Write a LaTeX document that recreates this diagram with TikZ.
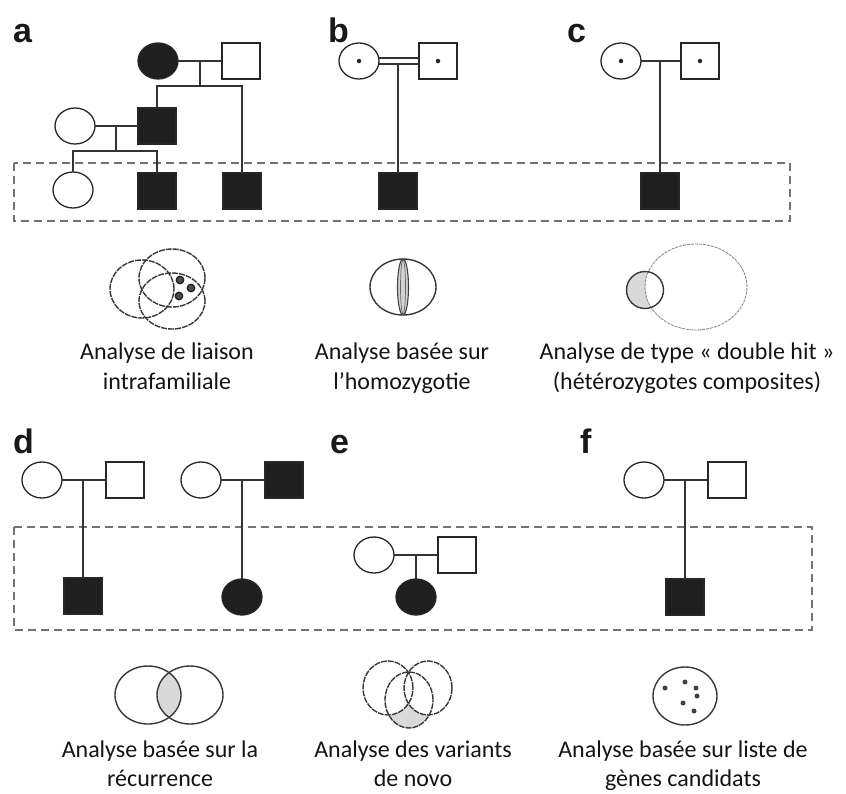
\documentclass[tikz,border=0pt]{standalone}
\usepackage{fontspec}
\setmainfont{Carlito}
\newfontfamily\labelfont{Liberation Sans}
\usetikzlibrary{shapes.geometric}
\begin{document}
\begin{tikzpicture}[x=1pt,y=-1pt,
  every node/.style={inner sep=0pt, outer sep=0pt},
  fem/.style={ellipse, draw=black!85, line width=1.3pt, minimum width=40pt, minimum height=36pt},
  mal/.style={rectangle, draw=black!85, line width=1.3pt, minimum width=38pt, minimum height=36pt},
  aff/.style={fill=black!88},
  pedlink/.style={draw=black!80, line width=1.3pt},
  panellbl/.style={font=\labelfont\bfseries\fontsize{34}{34}\selectfont, anchor=base west, text=black!90},
  captxt/.style={font=\fontsize{24}{30}\selectfont, anchor=base, text=black!92},
  dashbox/.style={draw=black!55, dash pattern=on 8pt off 5pt, line width=1.4pt},
  dotc/.style={circle, fill=black!85, minimum size=4.5pt},
  vline/.style={draw=black!78, line width=1.4pt},
  vdash/.style={draw=black!78, line width=1.4pt, dash pattern=on 6pt off 1pt},
  vdot/.style={circle, fill=black!70, draw=black!90, line width=1.2pt, minimum size=7.5pt},
  fdot/.style={circle, fill=black!75, minimum size=5pt}
]
\useasboundingbox (0,0) rectangle (846,793);

% ---------- boxes ----------
\draw[dashbox] (14,163) rectangle (790,221);
\draw[dashbox] (14,527) rectangle (812,630);

% ---------- panel labels ----------
\node[panellbl] (la) at (13,42) {a};
\node[panellbl] (lb) at (328,42) {b};
\node[panellbl] (lc) at (567,42) {c};
\node[panellbl] (ld) at (13,453) {d};
\node[panellbl] (le) at (330,453) {e};
\node[panellbl] (lf) at (580,453) {f};

% ---------- panel a ----------
\node[fem,aff] (a1) at (158,61) {};
\node[mal] (a2) at (241,61) {};
\draw[pedlink] (a1) -- (a2);
\coordinate (a12) at (200,61);
\coordinate (a12s) at (200,86);
\node[mal,aff] (a3) at (157,126) {};
\node[mal,aff] (a4) at (242,191) {};
\draw[pedlink] (a12) -- (a12s);
\draw[pedlink] (a3.north) |- (a12s) -| (a4.north);
\node[fem] (a5) at (75,126) {};
\draw[pedlink] (a5) -- (a3);
\coordinate (a53) at (116,126);
\coordinate (a53s) at (116,151);
\node[fem] (a6) at (73,190) {};
\node[mal,aff] (a7) at (157,191) {};
\draw[pedlink] (a53) -- (a53s);
\draw[pedlink] (a6.north) |- (a53s) -| (a7.north);

% ---------- panel b ----------
\node[fem] (b1) at (359,61) {};
\node[dotc] (b1d) at (b1) {};
\node[mal] (b2) at (438,61) {};
\node[dotc] (b2d) at (b2) {};
\draw[pedlink] ([yshift=3pt]b1.east) -- ([yshift=3pt]b2.west);
\draw[pedlink] ([yshift=-3pt]b1.east) -- ([yshift=-3pt]b2.west);
\coordinate (b12) at (398,64);
\node[mal,aff] (b3) at (398,191) {};
\draw[pedlink] (b12) -- (b3.north);

% ---------- panel c ----------
\node[fem] (c1) at (621,61) {};
\node[dotc] (c1d) at (c1) {};
\node[mal] (c2) at (700,61) {};
\node[dotc] (c2d) at (c2) {};
\draw[pedlink] (c1) -- (c2);
\coordinate (c12) at (660,61);
\node[mal,aff] (c3) at (660,191) {};
\draw[pedlink] (c12) -- (c3.north);

% ---------- panel d ----------
\node[fem] (d1) at (42,480) {};
\node[mal] (d2) at (125,480) {};
\draw[pedlink] (d1) -- (d2);
\coordinate (d12) at (83,480);
\node[mal,aff] (d3) at (83,596) {};
\draw[pedlink] (d12) -- (d3.north);
\node[fem] (d4) at (201,480) {};
\node[mal,aff] (d5) at (284,480) {};
\draw[pedlink] (d4) -- (d5);
\coordinate (d45) at (242,480);
\node[fem,aff] (d6) at (242,597) {};
\draw[pedlink] (d45) -- (d6.north);

% ---------- panel e ----------
\node[fem] (e1) at (374,555) {};
\node[mal] (e2) at (457,555) {};
\draw[pedlink] (e1) -- (e2);
\coordinate (e12) at (416,555);
\node[fem,aff] (e3) at (416,597) {};
\draw[pedlink] (e12) -- (e3.north);

% ---------- panel f ----------
\node[fem] (f1) at (644,480) {};
\node[mal] (f2) at (727,480) {};
\draw[pedlink] (f1) -- (f2);
\coordinate (f12) at (685,480);
\node[mal,aff] (f3) at (685,597) {};
\draw[pedlink] (f12) -- (f3.north);

% ---------- Venn a ----------
\draw[vdash] (142,289) ellipse [x radius=32pt, y radius=29pt];
\draw[vdash] (172,278) ellipse [x radius=33pt, y radius=29pt];
\draw[vdash] (172,301) ellipse [x radius=33pt, y radius=28pt];
\node[vdot] (va1) at (180,280) {};
\node[vdot] (va2) at (191,288) {};
\node[vdot] (va3) at (179,296) {};

% ---------- Venn b ----------
\draw[vline] (403,287) ellipse [x radius=33pt, y radius=28pt];
\filldraw[fill=gray!35, draw=black!75, line width=1.1pt] (403,287) ellipse [x radius=5.5pt, y radius=28pt];
\draw[black!60, line width=0.7pt] (403,287) ellipse [x radius=2.5pt, y radius=27pt];

% ---------- Venn c ----------
\begin{scope}
  \clip (645,290) circle [radius=18.5pt];
  \fill[gray!30] (645,290) circle [radius=18.5pt];
  \fill[white] (696,287) ellipse [x radius=51pt, y radius=43pt];
\end{scope}
\draw[black!45, line width=0.9pt, dash pattern=on 3pt off 1pt] (696,287) ellipse [x radius=51pt, y radius=43pt];
\draw[vline] (645,290) circle [radius=18.5pt];

% ---------- Venn d ----------
\begin{scope}
  \clip (148,695) ellipse [x radius=33pt, y radius=29pt];
  \fill[gray!30] (190,695) ellipse [x radius=33pt, y radius=29pt];
\end{scope}
\draw[vline] (148,695) ellipse [x radius=33pt, y radius=29pt];
\draw[vline] (190,695) ellipse [x radius=33pt, y radius=29pt];

% ---------- Venn e ----------
\begin{scope}
  \clip (409,700) ellipse [x radius=24pt, y radius=28pt];
  \fill[gray!30] (409,700) ellipse [x radius=24pt, y radius=28pt];
  \fill[white] (388,688) ellipse [x radius=25pt, y radius=27pt];
  \fill[white] (428,688) ellipse [x radius=24pt, y radius=27pt];
\end{scope}
\draw[vdash] (388,688) ellipse [x radius=25pt, y radius=27pt];
\draw[vdash] (428,688) ellipse [x radius=24pt, y radius=27pt];
\draw[vdash] (409,700) ellipse [x radius=24pt, y radius=28pt];

% ---------- Venn f ----------
\draw[vline] (685,696) ellipse [x radius=32pt, y radius=29pt];
\node[fdot] (vf1) at (665,688) {};
\node[fdot] (vf2) at (685,682) {};
\node[fdot] (vf3) at (696,688) {};
\node[fdot] (vf4) at (697,696) {};
\node[fdot] (vf5) at (683,703) {};
\node[fdot] (vf6) at (694,711) {};

% ---------- captions ----------
\node[captxt] (ca1) at (167,359) {Analyse de liaison};
\node[captxt] (ca2) at (167,389) {intrafamiliale};
\node[captxt] (cb1) at (402,359) {Analyse basée sur};
\node[captxt] (cb2) at (402,389) {l’homozygotie};
\node[captxt] (cc1) at (687,359) {Analyse de type « double hit »};
\node[captxt] (cc2) at (687,389) {(hétérozygotes composites)};
\node[captxt] (cd1) at (160,757) {Analyse basée sur la};
\node[captxt] (cd2) at (160,786) {récurrence};
\node[captxt] (ce1) at (413,757) {Analyse des variants};
\node[captxt] (ce2) at (413,786) {de novo};
\node[captxt] (cf1) at (683,757) {Analyse basée sur liste de};
\node[captxt] (cf2) at (683,786) {gènes candidats};
\end{tikzpicture}
\end{document}
